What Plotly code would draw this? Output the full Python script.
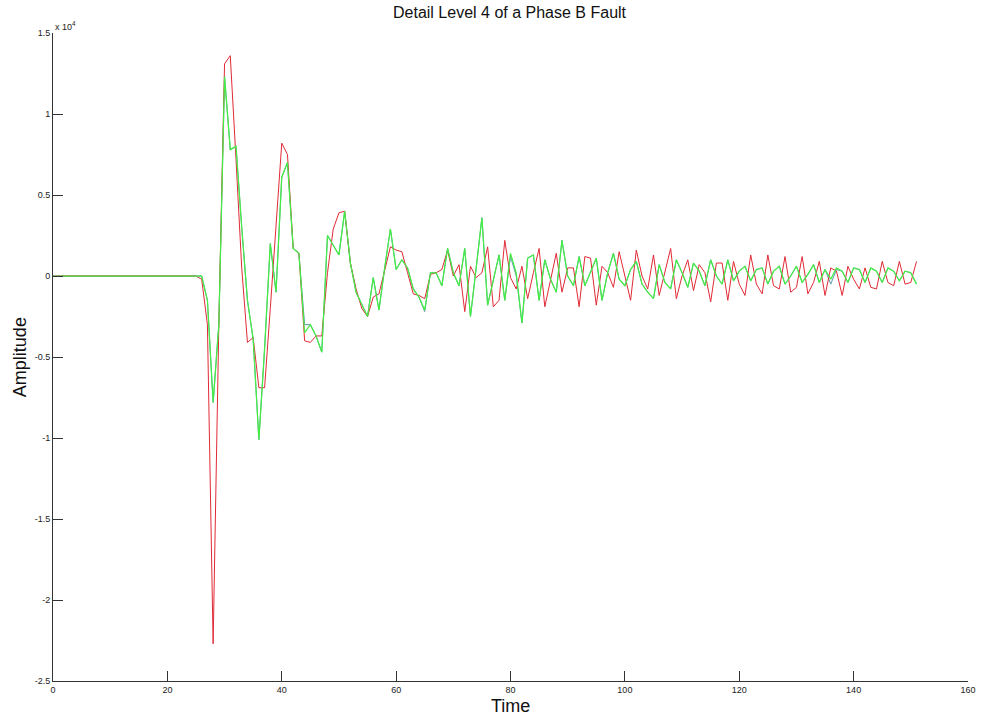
import plotly.graph_objects as go

# Sample index (time) and detail-level-4 coefficients, in units of 1e4
time = list(range(152))

phase_red = [
    0, 0, 0, 0, 0, 0, 0, 0, 0, 0,
    0, 0, 0, 0, 0, 0, 0, 0, 0, 0,
    0, 0, 0, 0, 0, 0, -0.02, -0.30, -2.27, -0.30,
    1.31, 1.36, 0.72, 0.05, -0.41, -0.38, -0.69, -0.69, -0.20, 0.32,
    0.82, 0.75, 0.17, 0.14, -0.40, -0.41, -0.37, -0.37, 0.02, 0.29,
    0.39, 0.40, 0.08, -0.08, -0.20, -0.25, -0.13, -0.11, 0.04, 0.18,
    0.16, 0.15, 0.02, -0.11, -0.12, -0.14, 0.01, 0.02, 0.04, 0.16,
    0.00, 0.07, -0.22, 0.06, -0.01, 0.02, 0.18, -0.19, -0.15, 0.22,
    -0.01, -0.08, 0.06, -0.14, 0.02, 0.17, -0.19, -0.02, 0.14, -0.10,
    0.05, 0.05, -0.19, 0.12, 0.11, -0.18, 0.06, 0.02, -0.07, 0.15,
    -0.01, -0.15, 0.16, 0.00, -0.08, 0.13, -0.12, 0.02, 0.17, -0.14,
    0.00, 0.10, -0.09, 0.07, 0.02, -0.16, 0.08, 0.08, -0.15, 0.09,
    -0.05, -0.12, 0.13, -0.05, -0.11, 0.13, -0.06, -0.08, 0.12, -0.10,
    -0.07, 0.12, -0.11, -0.04, 0.09, -0.12, 0.05, 0.03, -0.12, 0.06,
    -0.02, -0.08, 0.05, -0.07, -0.08, 0.09, -0.04, -0.06, 0.09, -0.05,
    -0.04, 0.09,
]

phase_green = [
    0, 0, 0, 0, 0, 0, 0, 0, 0, 0,
    0, 0, 0, 0, 0, 0, 0, 0, 0, 0,
    0, 0, 0, 0, 0, 0, 0.00, -0.15, -0.78, -0.30,
    1.23, 0.78, 0.80, 0.30, -0.15, -0.39, -1.01, -0.45, 0.20, -0.10,
    0.61, 0.70, 0.17, 0.14, -0.35, -0.30, -0.37, -0.47, 0.25, 0.19,
    0.13, 0.40, 0.08, -0.10, -0.18, -0.25, -0.01, -0.21, 0.05, 0.29,
    0.04, 0.10, 0.05, -0.08, -0.13, -0.21, 0.02, 0.02, -0.06, 0.17,
    0.02, -0.06, 0.17, -0.25, 0.05, 0.36, -0.18, -0.02, 0.13, -0.15,
    0.14, 0.02, -0.29, 0.11, 0.13, -0.15, 0.10, -0.02, -0.10, 0.22,
    0.00, -0.06, 0.12, -0.06, 0.02, 0.11, -0.15, 0.02, 0.14, -0.02,
    -0.06, 0.04, 0.09, -0.05, -0.10, -0.14, 0.07, -0.04, -0.08, 0.10,
    0.02, -0.07, 0.08, 0.03, -0.06, 0.10, 0.00, -0.05, 0.10, -0.03,
    0.03, 0.06, -0.03, 0.04, 0.05, -0.05, 0.03, 0.06, -0.05, 0.00,
    0.06, -0.04, 0.01, 0.07, -0.04, 0.04, -0.02, 0.05, 0.03, -0.04,
    0.05, 0.04, -0.04, 0.05, 0.03, -0.04, 0.05, 0.03, -0.03, 0.03,
    0.02, -0.05,
]

phase_blue = [
    0, 0, 0, 0, 0, 0, 0, 0, 0, 0,
    0, 0, 0, 0, 0, 0, 0, 0, 0, 0,
    0, 0, 0, 0, 0, 0, 0.00, -0.15, -0.78, -0.30,
    1.23, 0.78, 0.80, 0.30, -0.15, -0.39, -1.01, -0.45, 0.20, -0.10,
    0.61, 0.70, 0.17, 0.14, -0.30, -0.30, -0.37, -0.47, 0.25, 0.19,
    0.13, 0.40, 0.08, -0.10, -0.18, -0.25, -0.01, -0.21, 0.05, 0.29,
    0.04, 0.10, 0.05, -0.08, -0.13, -0.22, 0.02, 0.02, -0.06, 0.17,
    0.02, -0.06, 0.17, -0.25, 0.05, 0.36, -0.18, -0.02, 0.13, -0.15,
    0.12, 0.00, -0.29, 0.11, 0.13, -0.15, 0.10, -0.02, -0.10, 0.22,
    0.00, -0.06, 0.12, -0.06, 0.02, 0.11, -0.15, 0.02, 0.14, -0.02,
    -0.06, 0.04, 0.09, -0.05, -0.10, -0.14, 0.07, -0.04, -0.08, 0.10,
    0.02, -0.07, 0.08, 0.03, -0.06, 0.10, 0.00, -0.05, 0.10, -0.03,
    0.03, 0.06, -0.03, 0.04, 0.05, -0.05, 0.03, 0.06, -0.05, 0.00,
    0.06, -0.04, 0.01, 0.07, -0.04, 0.04, -0.05, 0.04, 0.03, -0.04,
    0.05, 0.04, -0.04, 0.05, 0.03, -0.04, 0.05, 0.03, -0.03, 0.03,
    0.02, -0.05,
]

x_ticks = [0, 20, 40, 60, 80, 100, 120, 140, 160]
y_ticks = [-2.5, -2, -1.5, -1, -0.5, 0, 0.5, 1, 1.5]
y_tick_text = ["-2.5", "-2", "-1.5", "-1", "-0.5", "0", "0.5", "1", "1.5"]

fig = go.Figure()
fig.add_trace(go.Scatter(x=time, y=phase_blue, mode="lines", opacity=0.7,
                         line=dict(color="#1b6e8c", width=1), showlegend=False))
fig.add_trace(go.Scatter(x=time, y=phase_red, mode="lines",
                         line=dict(color="#e02a36", width=1), showlegend=False))
fig.add_trace(go.Scatter(x=time, y=phase_green, mode="lines",
                         line=dict(color="#46ec46", width=1.25), showlegend=False))

axis_font = dict(family="Liberation Sans, Arial, sans-serif", size=9, color="#222")

fig.update_layout(
    width=988, height=719,
    margin=dict(l=53, r=16, t=33, b=38),
    paper_bgcolor="white", plot_bgcolor="white",
    xaxis=dict(range=[0, 160], tickvals=x_ticks, ticks="inside", ticklen=10,
               tickcolor="#333", showline=True, linecolor="#333", linewidth=1,
               showgrid=False, zeroline=False, tickfont=axis_font),
    yaxis=dict(range=[-2.5, 1.5], tickvals=y_ticks, ticktext=y_tick_text,
               ticks="inside", ticklen=10, tickcolor="#333", showline=True,
               linecolor="#333", linewidth=1, showgrid=False, zeroline=False,
               tickfont=axis_font),
    annotations=[
        dict(text="Detail Level 4 of a Phase B Fault", xref="paper", yref="paper",
             x=0.4995, y=1.032, xanchor="center", yanchor="middle", showarrow=False,
             font=dict(family="Liberation Sans, Arial, sans-serif", size=16, color="#111")),
        dict(text="Time", xref="paper", yref="paper", x=0.4995, y=-0.0386,
             xanchor="center", yanchor="middle", showarrow=False,
             font=dict(family="Liberation Sans, Arial, sans-serif", size=18, color="#111")),
        dict(text="Amplitude", xref="paper", yref="paper", x=-0.0359, y=0.5,
             xanchor="center", yanchor="middle", textangle=-90, showarrow=False,
             font=dict(family="Liberation Sans, Arial, sans-serif", size=18, color="#111")),
        dict(text="x 10<sup>4</sup>", xref="paper", yref="paper", x=0.0, y=1.011,
             xanchor="left", yanchor="middle", showarrow=False,
             font=dict(family="Liberation Sans, Arial, sans-serif", size=9, color="#222")),
    ],
)

fig.write_html("out.html")
